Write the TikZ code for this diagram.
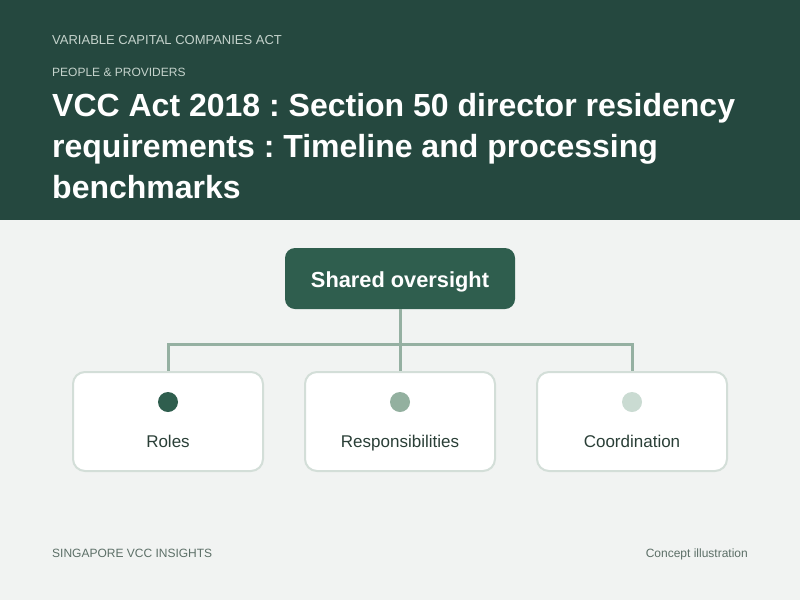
\documentclass[tikz,border=0pt]{standalone}
\usepackage{fontspec}
\setmainfont{Liberation Sans}
\frenchspacing
\definecolor{headbg}{HTML}{25483F}
\definecolor{pagebg}{HTML}{F1F3F2}
\definecolor{kicker}{HTML}{C5D3CC}
\definecolor{rootfill}{HTML}{2F5E4E}
\definecolor{linkc}{HTML}{95B0A2}
\definecolor{cardline}{HTML}{D3DED8}
\definecolor{dotA}{HTML}{2F5E4E}
\definecolor{dotB}{HTML}{93B09F}
\definecolor{dotC}{HTML}{CADBD2}
\definecolor{labelc}{HTML}{2A3F37}
\definecolor{footc}{HTML}{5C6F67}
\begin{document}
\begin{tikzpicture}[x=1pt,y=-1pt,
  kick/.style={anchor=base west,inner sep=0pt,text=kicker},
  titleline/.style={anchor=base west,inner sep=0pt,text=white,font=\fontsize{32}{36}\selectfont\bfseries},
  rootbox/.style={draw=none,fill=rootfill,rounded corners=10pt,minimum width=230pt,minimum height=61pt},
  rootlbl/.style={anchor=base,inner sep=0pt,text=white,font=\fontsize{21.8}{26}\selectfont\bfseries},
  card/.style={draw=cardline,line width=2pt,fill=white,rounded corners=12pt,minimum width=190pt,minimum height=99pt},
  link/.style={draw=linkc,line width=3pt},
  dotnode/.style={circle,inner sep=0pt,minimum size=20pt,draw=none},
  lbl/.style={anchor=base,inner sep=0pt,text=labelc,font=\fontsize{17}{20}\selectfont},
  foot/.style={inner sep=0pt,text=footc,font=\fontsize{12}{14}\selectfont}]
\useasboundingbox (0,0) rectangle (800,600);
\fill[pagebg] (0,0) rectangle (800,600);
\fill[headbg] (0,0) rectangle (800,220);
\node[kick,font=\fontsize{13}{15}\selectfont] (k1) at (52,44) {VARIABLE CAPITAL COMPANIES ACT};
\node[kick,font=\fontsize{12}{14}\selectfont] (k2) at (52,76) {PEOPLE \& PROVIDERS};
\node[titleline] (t1) at (52,116) {VCC Act 2018 : Section 50 director residency};
\node[titleline] (t2) at (52,157) {requirements : Timeline and processing};
\node[titleline] (t3) at (52,198) {benchmarks};

\node[rootbox] (root) at (400,278.5) {};
\node[rootlbl] (rootl) at (400,287) {Shared oversight};
\node[card] (c1) at (168,421.5) {};
\node[card] (c2) at (400,421.5) {};
\node[card] (c3) at (632,421.5) {};
\coordinate (j1) at (168,344);
\coordinate (j3) at (632,344);
\draw[link] (root.south) -- (c2.north);
\draw[link] (c1.north) -- (j1) -- (j3) -- (c3.north);

\node[dotnode,fill=dotA] (d1) at (168,402) {};
\node[dotnode,fill=dotB] (d2) at (400,402) {};
\node[dotnode,fill=dotC] (d3) at (632,402) {};
\node[lbl] (l1) at (168,447) {Roles};
\node[lbl] (l2) at (400,447) {Responsibilities};
\node[lbl] (l3) at (632,447) {Coordination};

\node[foot,anchor=base west] (f1) at (52,557.5) {SINGAPORE VCC INSIGHTS};
\node[foot,anchor=base east] (f2) at (748,557.5) {Concept illustration};
\end{tikzpicture}
\end{document}
